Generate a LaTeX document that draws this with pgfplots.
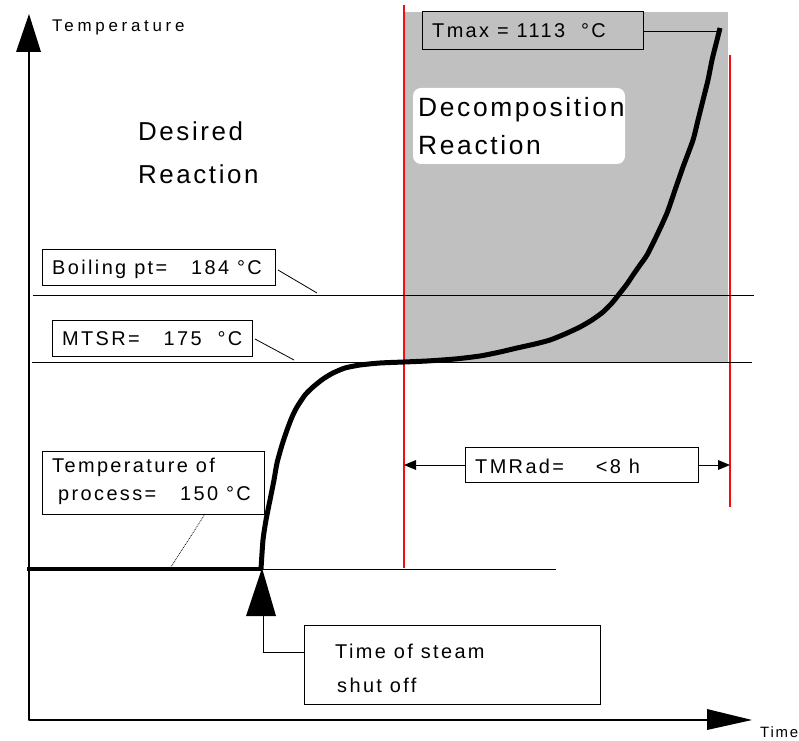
\documentclass[border=0pt]{standalone}
\usepackage{pgfplots}
\pgfplotsset{compat=1.18}
\usepackage{fontspec}
\setmainfont{Liberation Sans}
\newfontfamily\lab[LetterSpace=12]{Liberation Sans}
\newfontfamily\bigfont[LetterSpace=10]{Liberation Sans}
\newfontfamily\widefont[LetterSpace=22]{Liberation Sans}
\definecolor{shade}{HTML}{C0C0C0}
\definecolor{redl}{HTML}{F01010}
\begin{document}
\begin{tikzpicture}[x=1bp,y=1bp]
\begin{axis}[
  at={(0,0)}, anchor=south west,
  scale only axis, width=799bp, height=741bp,
  xmin=0, xmax=799, ymin=0, ymax=741, y dir=reverse,
  hide axis, clip=false,
  every axis plot/.append style={line join=round},
]
% shaded decomposition region
\addplot[fill=shade, draw=none] coordinates {(405,12) (728,12) (728,363) (405,363)} -- cycle;
% rounded white label box
\fill[white, rounded corners=8bp] (axis cs:413,88) rectangle (axis cs:625,164);
% red lines
\addplot[redl, line width=1.3bp] coordinates {(404,5) (404,568)};
\addplot[redl, line width=1.3bp] coordinates {(730,55) (730,507)};
% axes
\addplot[black, line width=1.2bp] coordinates {(29,50) (29,720) (712,720)};
\fill[black] (axis cs:29,14) -- (axis cs:41,52) -- (axis cs:16,52) -- cycle;
\fill[black] (axis cs:752,720) -- (axis cs:707,709) -- (axis cs:707,730) -- cycle;
% horizontal lines
\addplot[black, line width=1bp] coordinates {(33,296) (754,296)};
\addplot[black, line width=1bp] coordinates {(32,363) (752,363)};
\addplot[black, line width=1bp] coordinates {(262,569) (556,569)};
\addplot[black, line width=4.5bp] coordinates {(27,569) (262,569)};
% temperature curve
\addplot[black, line width=5bp, smooth, tension=0.4] coordinates {
(261,569) (263,540) (266,520) (270,500) (274,480) (277,463) (282,445) (287,430)
(292,417) (297,407) (305,395) (313,387) (323,379) (333,373) (345,368) (360,365)
(380,363) (404,362) (427,361) (455,359) (480,356) (500,352) (517,348) (535,344)
(550,340) (565,334) (580,327) (592,320) (603,312) (612,303) (620,293) (627,284)
(633,275) (640,265) (647,255) (657,235) (667,213) (675,190) (683,167) (693,140)
(698,120) (703,100) (708,80) (712,60) (716,44) (720,28)};
% label boxes
\draw[black, line width=1bp] (axis cs:42,250) rectangle (axis cs:275,286);
\draw[black, line width=0.8bp] (axis cs:278,270) -- (axis cs:317,293);
\draw[black, line width=1bp] (axis cs:52,321) rectangle (axis cs:252,357);
\draw[black, line width=0.8bp] (axis cs:255,339) -- (axis cs:294,360);
\draw[black, line width=1bp] (axis cs:42,451) rectangle (axis cs:264,514);
\draw[black, line width=0.8bp, densely dotted] (axis cs:205,514) -- (axis cs:171,567);
\draw[black, line width=1bp] (axis cs:422,12) rectangle (axis cs:643,50);
\draw[black, line width=1bp] (axis cs:643,32) -- (axis cs:720,32);
% TMRad
\draw[black, line width=1bp] (axis cs:412,465) -- (axis cs:722,465);
\fill[black] (axis cs:404,465) -- (axis cs:416,460) -- (axis cs:416,470) -- cycle;
\fill[black] (axis cs:730,465) -- (axis cs:718,460) -- (axis cs:718,470) -- cycle;
\draw[black, line width=1bp, fill=white] (axis cs:465,447) rectangle (axis cs:698,482);
% steam shut-off
\fill[black] (axis cs:262,568) -- (axis cs:276,616) -- (axis cs:246,616) -- cycle;
\draw[black, line width=1bp] (axis cs:263,616) -- (axis cs:263,652) -- (axis cs:304,652);
\draw[black, line width=1bp] (axis cs:304,625) rectangle (axis cs:600,704);
% texts
\node[anchor=west, inner sep=0, font=\widefont\fontsize{17}{20}\selectfont] at (axis cs:52,27) {Temperature};
\node[anchor=west, inner sep=0, font=\bigfont\fontsize{26}{30}\selectfont] at (axis cs:138,131) {Desired};
\node[anchor=west, inner sep=0, font=\bigfont\fontsize{26}{30}\selectfont] at (axis cs:138,174) {Reaction};
\node[anchor=west, inner sep=0, font=\bigfont\fontsize{26.5}{30}\selectfont] at (axis cs:418,110) {Decomposition};
\node[anchor=west, inner sep=0, font=\bigfont\fontsize{26.5}{30}\selectfont] at (axis cs:418,145) {Reaction};
\node[anchor=west, inner sep=0, font=\lab\fontsize{20}{24}\selectfont] at (axis cs:432,31) {Tmax = 1113\ \ °C};
\node[anchor=west, inner sep=0, font=\lab\fontsize{20}{24}\selectfont] at (axis cs:52,269) {Boiling pt=\ \ \ 184 °C};
\node[anchor=west, inner sep=0, font=\lab\fontsize{20}{24}\selectfont] at (axis cs:62,339) {MTSR=\ \ \ 175\ \ °C};
\node[anchor=west, inner sep=0, font=\lab\fontsize{20}{24}\selectfont] at (axis cs:52,467) {Temperature of};
\node[anchor=west, inner sep=0, font=\lab\fontsize{20}{24}\selectfont] at (axis cs:58,496) {process=\ \ \ 150 °C};
\node[anchor=west, inner sep=0, font=\lab\fontsize{20}{24}\selectfont] at (axis cs:475,466) {TMRad=\ \ \ \ <8 h};
\node[anchor=west, inner sep=0, font=\lab\fontsize{20}{24}\selectfont] at (axis cs:335,651) {Time of steam};
\node[anchor=west, inner sep=0, font=\lab\fontsize{20}{24}\selectfont] at (axis cs:337,685) {shut off};
\node[anchor=west, inner sep=0, font=\lab\fontsize{15}{18}\selectfont] at (axis cs:760,732) {Time};
\end{axis}
\pgfresetboundingbox
\path[use as bounding box] (0,0) rectangle (799,741);
\end{tikzpicture}
\end{document}
